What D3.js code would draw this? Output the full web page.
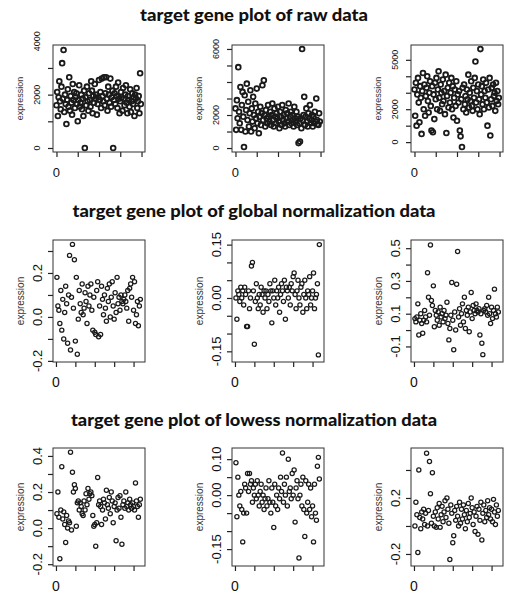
<!DOCTYPE html>
<html>
<head>
<meta charset="utf-8">
<script src="https://cdn.jsdelivr.net/npm/d3@7"></script>
<style>
  body { margin: 0; background: #fff; }
  text { font-family: "Liberation Sans", Arial, sans-serif; fill: #111; }
</style>
</head>
<body>
<script>
// titles of the three rows
const titles = [
    "target gene plot of raw data",
    "target gene plot of global normalization data",
    "target gene plot of lowess normalization data"
];

// raw data, one value per probe (index on x)
const raw1 = [
    1600, 2100, 1200, 1900, 2500, 1750, 1450, 2300, 3180, 1850,
    3670, 1350, 2000, 1650, 900, 1800, 2200, 1550, 2650, 1400,
    1950, 1700, 1250, 2400, 1800, 2100, 1500, 1900, 2050, 1650,
    1000, 1800, 2350, 1550, 1700, 2000, 1450, 1850, 1200, 2150,
    0, 1900, 1600, 2300, 1750, 1400, 2050, 1800, 1550, 2500,
    2150, 1300, 1950, 1700, 2400, 1850, 2000, 1250, 1650, 1900,
    2550, 1800, 2100, 1500, 2600, 1950, 1750, 2650, 1600, 2050,
    2650, 1850, 1400, 2300, 2000, 1700, 2600, 1550, 1900, 2150,
    0, 1800, 2050, 1650, 2300, 1950, 1500, 2450, 1850, 1300,
    1750, 2100, 1900, 1400, 2250, 1850, 1600, 2000, 2350, 1700,
    1300, 1950, 1800, 1550, 2200, 1350, 1750, 2050, 1650, 1900,
    1200, 2000, 1850, 2250, 1500, 1750, 1950, 1300, 2800, 1650
];
const raw2 = [
    2400, 1100, 2900, 1800, 4900, 2200, 1500, 3700, 1100, 2600,
    3400, 1900, 60, 3200, 1000, 2300, 3900, 1700, 2800, 1300,
    2100, 3500, 1000, 2400, 1600, 3100, 2000, 1200, 2700, 1800,
    3600, 1500, 2200, 900, 1900, 2500, 1400, 2100, 3800, 1700,
    4100, 2000, 1300, 2300, 1800, 1500, 2600, 1900, 1600, 2200,
    1400, 2000, 2700, 1700, 1300, 2400, 1900, 1500, 2100, 1800,
    2500, 1600, 1200, 2200, 1900, 1400, 2600, 1700, 2000, 1500,
    1300, 2300, 1800, 2100, 1600, 2700, 1400, 1900, 2200, 1500,
    2000, 1700, 1300, 2500, 1800, 1600, 2200, 1400, 1900, 300,
    1500, 400, 1800, 1200, 6000, 1700, 2000, 3100, 1400, 1900,
    2400, 1600, 1300, 2100, 1800, 2600, 1500, 1700, 2000, 1300,
    1900, 1500, 2200, 1600, 3000, 1700, 1450, 1400, 2100, 1600
];
const raw3 = [
    3200, 1600, 3600, 1000, 2900, 3900, 2400, 1200, 3400, 2700,
    500, 3100, 4200, 2000, 3500, 1600, 2800, 3300, 4000, 2500,
    1800, 3000, 3700, 2200, 700, 3400, 600, 2900, 1400, 3600,
    2600, 3900, 2000, 3200, 4300, 2700, 1900, 3500, 3000, 2300,
    3800, 2500, 3100, 1700, 4100, 550, 2800, 3300, 2100, 3600,
    2400, 3000, 3900, 2000, 3400, 1500, 2700, 3200, 2200, 3700,
    1300, 2900, 2400, 3100, 700, 350, 2600, -300, 3300, 2000,
    3500, 2300, 2800, 1800, 3200, 2600, 4100, 2100, 3000, 2500,
    3700, 2200, 1900, 3300, 2700, 3900, 4900, 2400, 3100, 2000,
    3500, 2600, 1700, 5650, 2900, 3400, 2300, 3800, 2000, 3100,
    2700, 3600, 2400, 1000, 3200, 2100, 3900, 400, 2600, 3300,
    2200, 3500, 2800, 3000, 1900, 3600, 2500, 3100, 2300, 2700
];

// global normalization
const glob1 = [
    0.18, 0.05, 0.03, -0.03, 0.12, -0.06, 0.08, -0.1, 0.02, 0.14,
    0.06, -0.12, 0.1, 0.28, -0.15, 0.09, 0.33, 0.04, 0.26, -0.11,
    0.18, -0.17, -0.01, 0.12, 0.06, 0.02, 0.15, 0.01, 0.04, 0.11,
    0.07, -0.03, 0.14, 0.05, 0.1, 0.15, 0.03, -0.06, 0.09, -0.07,
    -0.08, 0.12, 0.16, -0.09, 0.05, -0.08, 0.14, 0.08, 0.01, 0.1,
    0.04, -0.02, 0.13, 0.07, 0.15, 0.0, 0.09, 0.16, 0.05, -0.01,
    0.11, 0.02, 0.18, 0.06, 0.09, 0.03, 0.1, 0.07, 0.06, 0.08,
    0.1, 0.07, 0.04, 0.12, -0.02, 0.13, 0.15, 0.09, 0.18, 0.03,
    0.16, -0.03, 0.01, 0.07, -0.04, 0.05, 0.08
];
const glob2 = [
    0.0, -0.06, 0.02, 0.01, -0.01, 0.03, 0.0, 0.02, -0.02, 0.03,
    0.01, -0.08, -0.08, 0.02, -0.03, 0.0, 0.09, 0.1, 0.02, -0.13,
    -0.01, 0.04, 0.0, -0.03, 0.01, -0.02, 0.03, 0.01, -0.04, 0.02,
    0.0, 0.02, -0.03, 0.01, -0.01, 0.04, 0.02, -0.07, 0.02, 0.0,
    0.05, -0.02, 0.02, 0.0, 0.03, -0.04, 0.01, 0.04, 0.02, -0.01,
    0.05, -0.06, 0.03, 0.02, 0.0, 0.03, -0.02, 0.04, 0.02, 0.06,
    0.07, 0.01, -0.03, 0.02, 0.05, 0.0, -0.02, 0.03, 0.04, -0.04,
    0.01, 0.05, 0.0, -0.03, 0.02, 0.01, 0.06, -0.02, 0.0, 0.02,
    0.07, -0.03, 0.0, 0.01, 0.04, -0.16, 0.15
];
const glob3 = [
    0.07, 0.05, 0.08, 0.16, -0.03, 0.06, 0.1, 0.04, -0.02, 0.06,
    0.12, 0.08, 0.05, 0.35, 0.2, 0.09, 0.52, 0.18, 0.15, 0.27,
    0.02, 0.12, 0.09, 0.06, 0.11, 0.03, 0.14, 0.08, 0.1, 0.05,
    0.12, 0.07, 0.09, 0.17, 0.04, -0.06, 0.01, 0.09, 0.29, 0.06,
    -0.12, 0.11, 0.0, 0.28, 0.48, 0.08, 0.13, 0.03, 0.1, 0.16,
    0.05, 0.2, 0.01, 0.12, 0.09, 0.14, -0.01, 0.11, 0.23, 0.07,
    0.15, 0.12, 0.1, 0.16, 0.12, 0.11, 0.13, -0.03, 0.1, -0.08,
    -0.15, 0.12, 0.13, 0.11, 0.15, 0.09, 0.2, 0.1, 0.04, 0.14,
    0.07, 0.12, 0.25, 0.1, 0.08, 0.14, 0.11
];

// lowess normalization
const lowess1 = [
    0.08, 0.2, 0.06, -0.17, 0.1, 0.34, 0.05, 0.09, 0.02, -0.08,
    0.07, 0.0, 0.04, 0.03, 0.42, -0.01, 0.31, 0.2, 0.24, 0.22,
    0.01, 0.14, 0.15, 0.1, 0.14, 0.12, 0.08, 0.07, 0.15, 0.1,
    0.19, 0.13, 0.22, 0.16, 0.19, 0.2, 0.18, 0.07, 0.01, 0.02,
    -0.1, 0.03, 0.28, 0.13, 0.15, 0.12, 0.02, 0.1, 0.16, 0.14,
    0.05, 0.21, 0.13, 0.11, 0.17, 0.08, 0.2, 0.15, 0.03, 0.12,
    0.14, -0.07, 0.1, 0.17, 0.11, 0.18, 0.06, -0.09, 0.13, 0.15,
    0.11, 0.2, 0.12, 0.14, 0.1, 0.16, 0.13, 0.11, 0.14, 0.12,
    0.1, 0.25, 0.15, 0.12, 0.06, 0.13, 0.16
];
const lowess2 = [
    0.09, -0.06, 0.05, 0.0, -0.03, 0.01, -0.04, -0.13, -0.05, 0.03,
    0.02, -0.05, 0.06, 0.01, 0.06, 0.03, 0.04, -0.02, 0.02, 0.0,
    0.03, -0.01, 0.04, 0.0, -0.03, 0.01, 0.03, -0.02, 0.0, -0.04,
    -0.01, 0.02, -0.03, -0.01, 0.04, -0.02, -0.05, 0.02, -0.02, -0.09,
    0.03, -0.03, 0.0, -0.04, 0.02, -0.01, 0.05, 0.01, 0.117, -0.02,
    0.03, 0.0, 0.05, -0.03, 0.1, 0.01, 0.02, -0.01, 0.06, 0.0,
    0.07, -0.075, 0.02, 0.04, -0.01, -0.175, 0.0, 0.03, -0.03, 0.05,
    -0.04, -0.115, 0.04, -0.05, -0.02, 0.03, -0.04, 0.02, -0.06, -0.03,
    -0.13, 0.03, -0.05, -0.07, 0.08, 0.105, 0.045
];
const lowess3 = [
    0.0, 0.17, 0.08, -0.19, 0.4, 0.06, -0.02, 0.1, 0.05, 0.12,
    0.01, 0.09, 0.52, 0.0, 0.11, 0.46, 0.23, 0.02, 0.38, 0.07,
    0.0, 0.1, -0.01, 0.13, 0.05, 0.16, -0.01, 0.08, 0.14, 0.03,
    0.1, 0.18, 0.06, 0.2, 0.12, 0.02, -0.24, 0.15, 0.09, -0.12,
    -0.07, 0.11, 0.04, 0.14, 0.07, 0.0, 0.17, 0.02, 0.12, 0.05,
    0.15, 0.08, -0.02, 0.11, 0.03, 0.16, 0.06, 0.09, 0.2, 0.13,
    0.01, 0.1, -0.04, 0.07, 0.14, -0.06, 0.12, 0.04, 0.17, -0.1,
    0.09, 0.15, 0.03, 0.11, 0.06, 0.18, 0.08, 0.13, 0.05, 0.12,
    0.03, 0.19, 0.1, 0.01, 0.15, 0.07, 0.11
];

// x ticks (only the first one is labelled in the picture)
const rawXTicks = [0, 30, 60, 90, 120];
const normXTicks = [0, 20, 40, 60, 80];

// y ticks and the ticks that carry a label
const yTicks = [
    [0, 1000, 2000, 3000],
    [0, 1000, 2000, 3000, 4000, 5000, 6000],
    [0, 1000, 2000, 3000, 4000, 5000],
    [-0.2, -0.1, 0, 0.1, 0.2, 0.3],
    [-0.15, -0.1, -0.05, 0, 0.05, 0.1, 0.15],
    [-0.1, 0, 0.1, 0.2, 0.3, 0.4, 0.5],
    [-0.2, -0.1, 0, 0.1, 0.2, 0.3, 0.4],
    [-0.15, -0.1, -0.05, 0, 0.05, 0.1],
    [-0.2, 0, 0.2, 0.4]
];
const yLabels = [
    [0, 2000, 4000],
    [0, 2000, 6000],
    [0, 2000, 5000],
    [-0.2, 0, 0.2],
    [-0.15, 0, 0.15],
    [-0.1, 0.1, 0.3, 0.5],
    [-0.2, 0, 0.2, 0.4],
    [-0.15, 0, 0.1],
    [-0.2, 0.2]
];
const yDigits = [0, 0, 0, 1, 2, 1, 1, 2, 1];
const yDomains = [
    [-150, 3860], [-240, 6240], [-600, 5900],
    [-0.205, 0.35], [-0.18, 0.163], [-0.195, 0.55],
    [-0.21, 0.444], [-0.197, 0.131], [-0.286, 0.557]
];

const series = [raw1, raw2, raw3, glob1, glob2, glob3, lowess1, lowess2, lowess3];

// layout
const width = 511;
const height = 595;
const colLeft = [53, 232, 411];
const boxW = 92;
const rowBox = [[45, 152], [240, 362], [448, 566]];
const titleY = [21, 217, 426];
const titleW = [228, 363, 366];

const svg = d3.select("body")
    .append("svg")
    .attr("width", width)
    .attr("height", height);

svg.selectAll(".title")
    .data(titles)
    .join("text")
    .attr("class", "title")
    .attr("x", 254)
    .attr("y", (d, i) => titleY[i])
    .attr("text-anchor", "middle")
    .attr("textLength", (d, i) => titleW[i])
    .attr("lengthAdjust", "spacingAndGlyphs")
    .style("font-family", "Lato, 'DejaVu Sans', sans-serif")
    .style("font-weight", "900")
    .style("font-size", "17px")
    .text(d => d);

series.forEach((values, k) => {
    const row = Math.floor(k / 3);
    const col = k % 3;
    const left = colLeft[col];
    const [top, bottom] = rowBox[row];
    const isRaw = row === 0;

    const x = d3.scaleLinear()
        .domain(isRaw ? [-4.9, 124.9] : [-3.06, 91.8])
        .range([left, left + boxW]);
    const y = d3.scaleLinear()
        .domain(yDomains[k])
        .range([bottom, top]);

    const g = svg.append("g");

    // bottom axis
    const xa = g.append("g")
        .attr("transform", `translate(0,${bottom})`)
        .call(d3.axisBottom(x).tickValues(isRaw ? rawXTicks : normXTicks).tickSize(5).tickFormat(""));
    xa.select(".domain").remove();
    xa.selectAll("line").attr("stroke", "#222").attr("stroke-width", 1.2);

    g.append("text")
        .attr("x", x(0))
        .attr("y", bottom + 20)
        .attr("text-anchor", "middle")
        .attr("dominant-baseline", "central")
        .style("font-size", isRaw ? "13px" : "14px")
        .text("0");

    // left axis
    const ya = g.append("g")
        .attr("transform", `translate(${left},0)`)
        .call(d3.axisLeft(y).tickValues(yTicks[k]).tickSize(5).tickFormat(""));
    ya.select(".domain").remove();
    ya.selectAll("line").attr("stroke", "#222").attr("stroke-width", 1.2);

    g.selectAll(".ylab")
        .data(yLabels[k])
        .join("text")
        .attr("class", "ylab")
        .attr("transform", d => `translate(${left - 16},${y(d)}) rotate(-90)`)
        .attr("text-anchor", "middle")
        .attr("dominant-baseline", "central")
        .style("font-size", isRaw ? "9px" : "13px")
        .text(d => d.toFixed(yDigits[k]));

    g.append("text")
        .attr("transform", `translate(${left - 33},${(top + bottom) / 2}) rotate(-90)`)
        .attr("text-anchor", "middle")
        .attr("dominant-baseline", "central")
        .style("font-size", isRaw ? "9px" : "10px")
        .style("fill", "#333")
        .text("expression");

    // points
    g.selectAll("circle")
        .data(values)
        .join("circle")
        .attr("cx", (d, i) => x(isRaw ? i : i + 1))
        .attr("cy", d => y(d))
        .attr("r", isRaw ? 2.4 : 2.1)
        .attr("fill", "none")
        .attr("stroke", "#1a1a1a")
        .attr("stroke-width", isRaw ? 1.8 : 1.25);

    // plot box
    g.append("rect")
        .attr("x", left)
        .attr("y", top)
        .attr("width", boxW)
        .attr("height", bottom - top)
        .attr("fill", "none")
        .attr("stroke", "#333")
        .attr("stroke-width", 1);
});
</script>
</body>
</html>
